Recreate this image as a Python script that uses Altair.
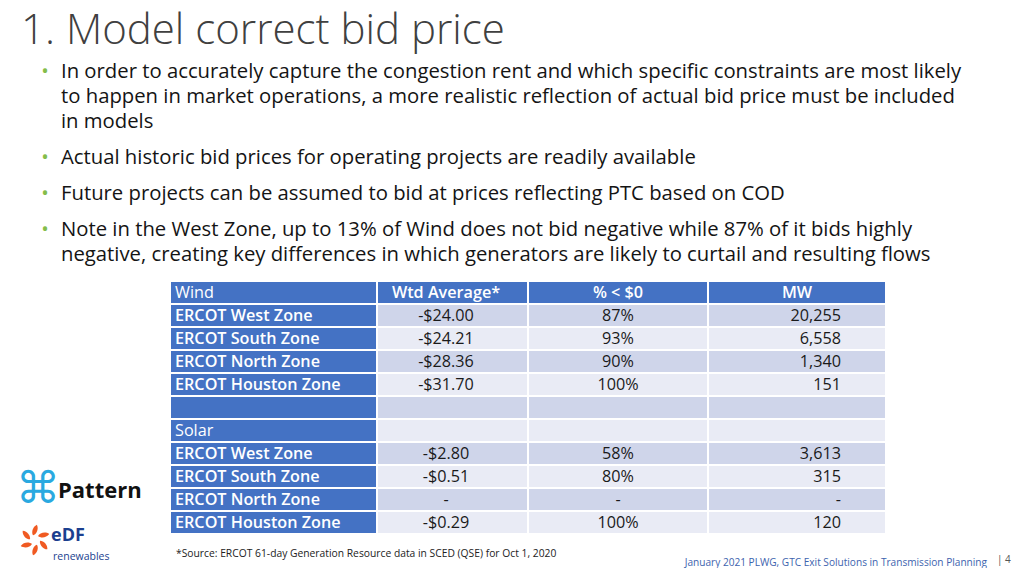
import math
import altair as alt
import pandas as pd

# ---------------- content (data) ----------------
title_text = "1. Model correct bid price"
bullet_lines = [
    ["In order to accurately capture the congestion rent and which specific constraints are most likely",
     "to happen in market operations, a more realistic reflection of actual bid price must be included",
     "in models"],
    ["Actual historic bid prices for operating projects are readily available"],
    ["Future projects can be assumed to bid at prices reflecting PTC based on COD"],
    ["Note in the West Zone, up to 13% of Wind does not bid negative while 87% of it bids highly",
     "negative, creating key differences in which generators are likely to curtail and resulting flows"],
]
header_labels = ["Wind", "Wtd Average*", "% < $0", "MW"]
zones = ["ERCOT West Zone", "ERCOT South Zone", "ERCOT North Zone", "ERCOT Houston Zone"]
wind_avg_price = [-24.00, -24.21, -28.36, -31.70]
wind_pct_below_zero = [87, 93, 90, 100]
wind_mw = [20255, 6558, 1340, 151]
solar_label = "Solar"
solar_avg_price = [-2.80, -0.51, None, -0.29]
solar_pct_below_zero = [58, 80, None, 100]
solar_mw = [3613, 315, None, 120]
footnote = "*Source: ERCOT 61-day Generation Resource data in SCED (QSE) for Oct 1, 2020"
footer = "January 2021 PLWG, GTC Exit Solutions in Transmission Planning"
page_no = "| 4"

# ---------------- layout ----------------
W, H = 1008, 560          # whole page is 1024x576 with the 8px body margin
FONT = "Open Sans"
BLUE = "#4472c4"
col_edges = [170, 377, 528, 708, 886]
row_top, row_h = 281, 23


def fmt_price(v):
    return "-" if v is None else ("-$%.2f" % abs(v) if v < 0 else "$%.2f" % v)


def fmt_pct(v):
    return "-" if v is None else "%d%%" % v


def fmt_mw(v):
    return "-" if v is None else "{:,}".format(v)


rows = [header_labels]
for i, z in enumerate(zones):
    rows.append([z, fmt_price(wind_avg_price[i]), fmt_pct(wind_pct_below_zero[i]), fmt_mw(wind_mw[i])])
rows.append(["", "", "", ""])
rows.append([solar_label, "", "", ""])
for i, z in enumerate(zones):
    rows.append([z, fmt_price(solar_avg_price[i]), fmt_pct(solar_pct_below_zero[i]), fmt_mw(solar_mw[i])])

cells = []
for r, row in enumerate(rows):
    for c, txt in enumerate(row):
        if r == 0 or c == 0:
            kind = "blue"
        elif r % 2 == 1:
            kind = "dark"
        else:
            kind = "light"
        y0 = row_top + row_h * r
        if c == 0:
            tx, grp = col_edges[0] + 5, "left"
        elif c == 3 and r > 0:
            tx, grp = 841, "right"
        elif c == 1:
            tx, grp = 446, "center"
        else:
            tx, grp = (col_edges[c] + col_edges[c + 1]) / 2, "center"
        bold = (c == 0 and r not in (0, 6)) or (r == 0 and c > 0)
        cells.append(dict(r=r, c=c, text=txt, kind=kind,
                          x0=col_edges[c], x1=col_edges[c + 1], y0=y0, y1=y0 + row_h,
                          tx=tx, ty=y0 + row_h / 2 + 0.5, grp=grp, bold=bold,
                          tcolor="white" if (r == 0 or c == 0) else "#1a1a1a"))
cells_df = pd.DataFrame(cells)

X = lambda f: alt.X(f, scale=alt.Scale(domain=[8, 8 + W], nice=False, zero=False), axis=None)
Y = lambda f: alt.Y(f, scale=alt.Scale(domain=[8, 8 + H], nice=False, zero=False, reverse=True), axis=None)

base = alt.Chart(cells_df)
rects = base.mark_rect(stroke="white", strokeWidth=2).encode(
    x=X("x0:Q"), x2="x1:Q", y=Y("y0:Q"), y2="y1:Q",
    color=alt.Color("kind:N", scale=alt.Scale(domain=["blue", "dark", "light"],
                                             range=[BLUE, "#cfd5ea", "#e9ebf5"]), legend=None))


def cell_text(grp, bold):
    return base.transform_filter(
        (alt.datum.grp == grp) & (alt.datum.bold == bold) & (alt.datum.text != "")
    ).mark_text(font=FONT, fontSize=16.2, align=grp, baseline="middle",
                fontWeight=600 if bold else "normal").encode(
        x=X("tx:Q"), y=Y("ty:Q"), text="text:N", color=alt.Color("tcolor:N", scale=None))


table_texts = [cell_text(g, b) for g in ["left", "center", "right"] for b in [True, False]]

# slide text
line_y = [[72, 97, 122], [158], [194], [230, 255]]
bl = []
for bi, lines in enumerate(bullet_lines):
    for li, t in enumerate(lines):
        bl.append(dict(text=t, x=61, y=line_y[bi][li], bullet=(li == 0)))
bl_df = pd.DataFrame(bl)
bullet_text = alt.Chart(bl_df).mark_text(font=FONT, fontSize=20.3, align="left", baseline="middle",
                                        color="#141414").encode(x=X("x:Q"), y=Y("y:Q"), text="text:N")
bullet_dots = alt.Chart(bl_df).transform_filter(alt.datum.bullet).transform_calculate(
    bx="45", dot="'•'").mark_text(font=FONT, fontSize=20, align="center", baseline="middle",
                                  color="#84bd4a").encode(x=X("bx:Q"), y=Y("y:Q"), text="dot:N")

title_df = pd.DataFrame([dict(text=title_text, x=21, y=44)])
title = alt.Chart(title_df).mark_text(font=FONT, fontSize=42, fontWeight=300, align="left",
                                      baseline="alphabetic", color="#404040").encode(
    x=X("x:Q"), y=Y("y:Q"), text="text:N")

foot_df = pd.DataFrame([dict(text=footnote, x=176, y=554)])
foot = alt.Chart(foot_df).mark_text(font=FONT, fontSize=10.3, align="left", baseline="middle",
                                    color="#222222").encode(x=X("x:Q"), y=Y("y:Q"), text="text:N")
footer_df = pd.DataFrame([dict(text=footer, x=987, y=563)])
foot2 = alt.Chart(footer_df).mark_text(font=FONT, fontSize=10.1, align="right", baseline="middle",
                                       color="#3d63ae").encode(x=X("x:Q"), y=Y("y:Q"), text="text:N")
page_df = pd.DataFrame([dict(text=page_no, x=997, y=560)])
page = alt.Chart(page_df).mark_text(font=FONT, fontSize=10, align="left", baseline="middle",
                                    color="#555555").encode(x=X("x:Q"), y=Y("y:Q"), text="text:N")

# logos (decorative)
pattern_icon = alt.Chart(pd.DataFrame([dict(text="\u2318", x=38, y=490)])).mark_text(
    font="DejaVu Sans", fontSize=44, align="center", baseline="middle", color="#2aa9e0").encode(
    x=X("x:Q"), y=Y("y:Q"), text="text:N")
pattern_word = alt.Chart(pd.DataFrame([dict(text="Pattern", x=58, y=491)])).mark_text(
    font=FONT, fontSize=22, fontWeight="bold", align="left", baseline="middle", color="#111111").encode(
    x=X("x:Q"), y=Y("y:Q"), text="text:N")
edf_word = alt.Chart(pd.DataFrame([dict(text="eDF", x=51, y=536)])).mark_text(
    font=FONT, fontSize=18, fontWeight="bold", align="left", baseline="middle", color="#1b3f8f").encode(
    x=X("x:Q"), y=Y("y:Q"), text="text:N")
edf_sub = alt.Chart(pd.DataFrame([dict(text="renewables", x=53, y=557)])).mark_text(
    font=FONT, fontSize=10.5, align="left", baseline="middle", color="#1b3f8f").encode(
    x=X("x:Q"), y=Y("y:Q"), text="text:N")
pet = []
for a in [0, 60, 120, 180, 240, 300]:
    pet.append(dict(x=35 + 10 * math.sin(math.radians(a)), y=540 - 10 * math.cos(math.radians(a)), ang=a + 20))
petals = alt.Chart(pd.DataFrame(pet)).mark_point(
    shape="M0,-1 C0.6,-0.4 0.5,0.6 0,1 C-0.5,0.6 -0.6,-0.4 0,-1 Z", filled=True, size=130,
    color="#f05a22", opacity=1).encode(x=X("x:Q"), y=Y("y:Q"), angle=alt.Angle("ang:Q", scale=None))

chart = alt.layer(rects, *table_texts, bullet_text, bullet_dots, title, foot, foot2, page,
                  pattern_icon, pattern_word, edf_word, edf_sub, petals).properties(
    width=W, height=H, padding=0, autosize=alt.AutoSizeParams(type="none"),
    background="white").configure_view(stroke=None)

chart.save("out.html", embed_options={"renderer": "svg", "actions": False})
